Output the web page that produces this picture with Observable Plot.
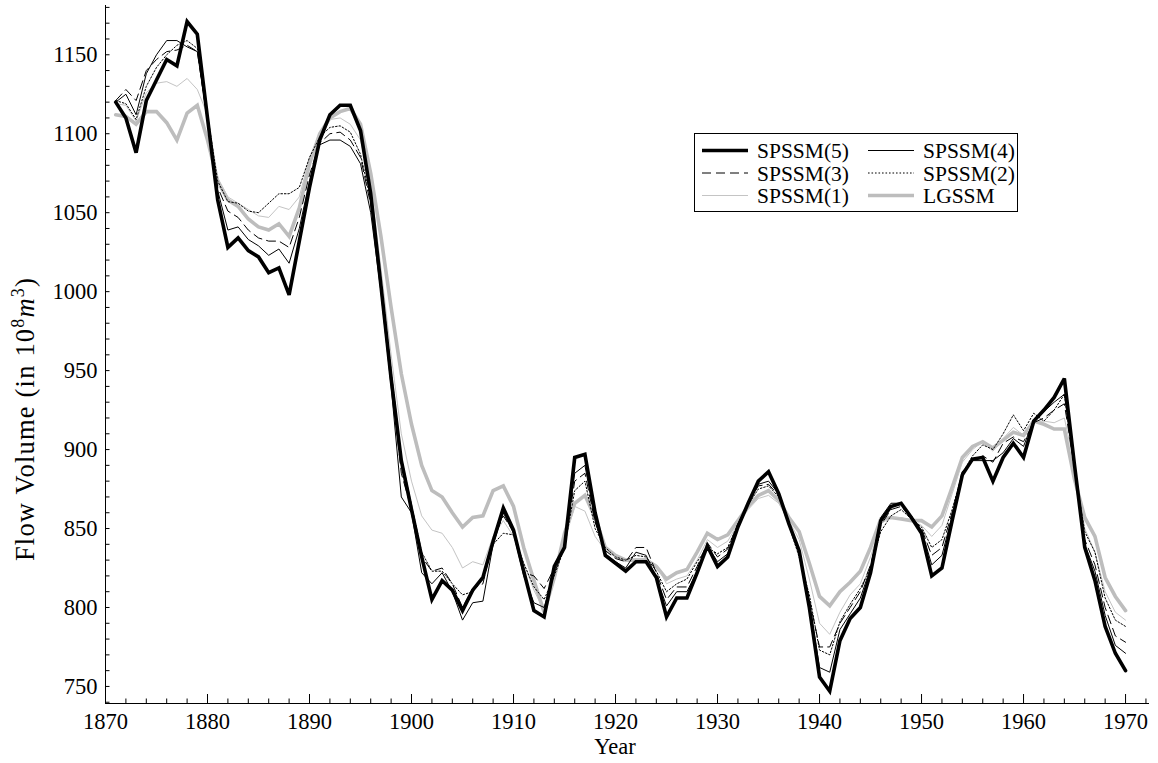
<!DOCTYPE html>
<html>
<head>
<meta charset="utf-8">
<script src="https://cdn.jsdelivr.net/npm/d3@7"></script>
<script src="https://cdn.jsdelivr.net/npm/@observablehq/plot@0.6"></script>
<style>
  html, body { margin: 0; padding: 0; background: #fff; }
  #chart { width: 1158px; height: 763px; }
  #chart svg, #chart svg text { font-family: "Liberation Serif", "Times New Roman", serif !important; }
</style>
</head>
<body>
<div id="chart"></div>
<script>
// Nile annual flow, smoothed estimates from each model, 1871–1970
const firstYear = 1871;
const lastYear = 1970;

const spssm5 = [1120,1110,1088,1121,1134,1147,1143,1171,1163,1110,
  1058,1028,1034,1026,1022,1012,1015,998,1032,1066,
  1096,1112,1118,1118,1102,1062,1004,945,893,862,
  832,805,817,811,798,811,819,842,863,849,
  823,798,794,826,838,895,897,860,833,828,
  823,829,829,819,794,806,806,822,839,826,
  832,851,866,880,886,872,853,836,800,756,
  747,779,793,800,822,855,864,866,857,847,
  820,825,855,884,894,895,880,895,904,895,
  918,925,933,945,890,838,817,788,771,760];

const spssm4 = [1120,1125,1112,1138,1150,1159,1159,1155,1152,1108,
  1064,1039,1041,1033,1029,1023,1027,1018,1040,1070,
  1093,1096,1096,1092,1081,1050,1000,940,870,860,
  822,815,822,810,792,803,804,840,860,847,
  820,803,800,822,838,885,890,855,834,829,
  825,835,833,819,801,810,810,823,839,829,
  834,852,866,878,880,872,853,835,803,762,
  759,786,796,806,825,857,866,866,858,849,
  827,833,858,886,893,893,893,898,907,902,
  919,924,930,935,888,840,823,795,776,771];

const spssm3 = [1121,1128,1121,1140,1147,1152,1153,1156,1152,1108,
  1066,1051,1047,1039,1034,1032,1032,1028,1047,1074,
  1094,1100,1101,1096,1085,1055,1003,945,885,862,
  832,823,825,815,800,812,815,843,858,848,
  822,820,812,825,838,880,885,854,836,831,
  829,838,838,822,805,813,813,826,841,832,
  837,853,866,877,878,871,853,835,805,775,
  775,790,800,810,827,852,862,864,857,850,
  833,838,860,886,893,896,892,904,908,905,
  917,920,925,929,888,843,827,800,782,778];

const spssm2 = [1121,1119,1109,1130,1142,1150,1156,1159,1154,1112,
  1070,1057,1056,1051,1050,1056,1062,1062,1066,1085,
  1098,1104,1105,1101,1087,1058,1008,950,895,865,
  835,823,823,815,808,810,818,840,847,846,
  828,813,805,820,838,874,880,850,838,832,
  830,833,832,823,810,815,818,829,838,834,
  838,853,865,875,877,870,852,832,808,773,
  770,791,802,812,825,848,858,862,856,851,
  838,843,862,885,896,903,900,910,922,912,
  923,918,925,935,888,848,835,806,792,788];

const spssm1 = [1119,1118,1108,1126,1132,1133,1130,1135,1128,1112,
  1072,1060,1056,1052,1048,1047,1054,1052,1060,1085,
  1100,1109,1110,1106,1096,1068,1015,960,910,880,
  858,849,847,838,825,829,827,845,855,845,
  828,811,798,817,842,864,861,845,836,832,
  829,831,831,827,815,818,820,830,843,838,
  842,853,862,869,871,866,855,843,818,790,
  783,797,808,815,832,853,857,857,855,852,
  845,852,872,892,900,905,899,907,914,909,
  918,918,917,920,890,850,835,810,797,792];

const lgssm = [1112,1111,1106,1114,1114,1107,1096,1113,1118,1096,
  1070,1058,1054,1046,1041,1039,1043,1035,1053,1081,
  1100,1110,1114,1116,1106,1075,1035,990,948,916,
  890,874,870,860,851,857,858,874,877,864,
  838,817,797,819,847,866,871,857,838,833,
  830,830,830,826,818,822,824,835,847,843,
  846,855,864,871,874,868,857,848,828,807,
  801,810,816,823,838,856,857,856,855,855,
  851,858,876,895,902,905,901,906,911,909,
  918,916,913,913,881,857,845,819,807,798];

// axis ticks
const xMajorTicks = [1870, 1880, 1890, 1900, 1910, 1920, 1930, 1940, 1950, 1960, 1970];
const xMinorTicks = [1872,1874,1876,1878,1882,1884,1886,1888,1892,1894,1896,1898,
  1902,1904,1906,1908,1912,1914,1916,1918,1922,1924,1926,1928,1932,1934,1936,1938,
  1942,1944,1946,1948,1952,1954,1956,1958,1962,1964,1966,1968,1972];
const yLabelTicks = [750, 800, 850, 900, 950, 1000, 1050, 1100, 1150];
const yMinorTicks = d3.range(740, 1181, 10);

// series names, drawing order and line styles
const series = [
  {name: "LGSSM",    values: lgssm,  stroke: "#bdbdbd", width: 3.6, dash: null},
  {name: "SPSSM(1)", values: spssm1, stroke: "#c4c4c4", width: 1,   dash: null},
  {name: "SPSSM(2)", values: spssm2, stroke: "#000",    width: 1,   dash: "1.6,1.9"},
  {name: "SPSSM(3)", values: spssm3, stroke: "#000",    width: 1,   dash: "9,5"},
  {name: "SPSSM(4)", values: spssm4, stroke: "#000",    width: 1,   dash: null},
  {name: "SPSSM(5)", values: spssm5, stroke: "#000",    width: 3.6, dash: null}
];
const legendOrder = ["SPSSM(5)", "SPSSM(4)", "SPSSM(3)", "SPSSM(2)", "SPSSM(1)", "LGSSM"];

const years = d3.range(firstYear, lastYear + 1);
const rows = series.flatMap(s => s.values.map((v, i) => ({series: s.name, year: years[i], value: v})));

const font = "'Liberation Serif', 'Times New Roman', serif";
const tickFont = 22.5;

const lineMarks = series.map(s => Plot.line(rows.filter(d => d.series === s.name), {
  x: "year", y: "value",
  stroke: s.stroke, strokeWidth: s.width,
  strokeDasharray: s.dash, strokeLinejoin: "miter", strokeMiterlimit: 3
}));

const plot = Plot.plot({
  width: 1158,
  height: 763,
  marginLeft: 105,
  marginRight: 10,
  marginTop: 5,
  marginBottom: 60,
  style: {fontFamily: font, fontSize: `${tickFont}px`, background: "#fff", color: "#000", overflow: "visible"},
  x: {domain: [1870, 1972.25]},
  y: {domain: [739.2, 1181.2]},
  marks: [
    // inward ticks on the bottom and left axes
    Plot.axisX(xMinorTicks, {tickSize: 4.5, dy: -4.5, fill: "none", label: null}),
    Plot.axisX(xMajorTicks, {tickSize: 9, dy: -9, fill: "none", label: null}),
    Plot.axisX(xMajorTicks, {tickSize: 0, tickPadding: 10, fontSize: tickFont, tickFormat: d => String(d), label: null}),
    Plot.axisY(yMinorTicks, {tickSize: 4.5, dx: 4.5, fill: "none", label: null}),
    Plot.axisY(yLabelTicks, {tickSize: 0, tickPadding: 8, fontSize: tickFont, tickFormat: d => String(d), label: null}),
    ...lineMarks,
    Plot.frame({anchor: "left"}),
    Plot.frame({anchor: "bottom"})
  ]
});

document.getElementById("chart").appendChild(plot);

const svg = d3.select(plot);

// axis titles
svg.append("text")
  .attr("x", 615).attr("y", 754)
  .attr("text-anchor", "middle")
  .attr("font-family", font).attr("font-size", 22.5)
  .attr("fill", "#000")
  .text("Year");

const yTitle = svg.append("text")
  .attr("transform", "translate(34,419) rotate(-90)")
  .attr("text-anchor", "middle")
  .attr("font-family", font).attr("font-size", 26.5)
  .attr("letter-spacing", 1.2)
  .attr("fill", "#000");
yTitle.append("tspan").text("Flow Volume (in 10");
yTitle.append("tspan").attr("dy", -10).attr("font-size", 18).text("8");
yTitle.append("tspan").attr("dy", 10).attr("font-style", "italic").text("m");
yTitle.append("tspan").attr("dy", -10).attr("font-size", 18).text("3");
yTitle.append("tspan").attr("dy", 10).text(")");

// legend box
const legend = svg.append("g")
  .attr("font-family", font).attr("font-size", 21.5)
  .attr("text-anchor", "start");
legend.append("rect")
  .attr("x", 694.5).attr("y", 133.5).attr("width", 323).attr("height", 78)
  .attr("fill", "#fff").attr("stroke", "#000").attr("stroke-width", 1);
legendOrder.forEach((name, i) => {
  const s = series.find(d => d.name === name);
  const col = i % 2, row = Math.floor(i / 2);
  const lx = col ? 868 : 702;
  const ly = 150.5 + row * 22.5;
  legend.append("line")
    .attr("x1", lx).attr("x2", lx + 46).attr("y1", ly).attr("y2", ly)
    .attr("stroke", s.stroke).attr("stroke-width", s.width)
    .attr("stroke-dasharray", s.dash);
  legend.append("text")
    .attr("x", lx + 55).attr("y", ly + 7.5)
    .attr("text-anchor", "start")
    .attr("fill", "#000")
    .text(name);
});
</script>
</body>
</html>
